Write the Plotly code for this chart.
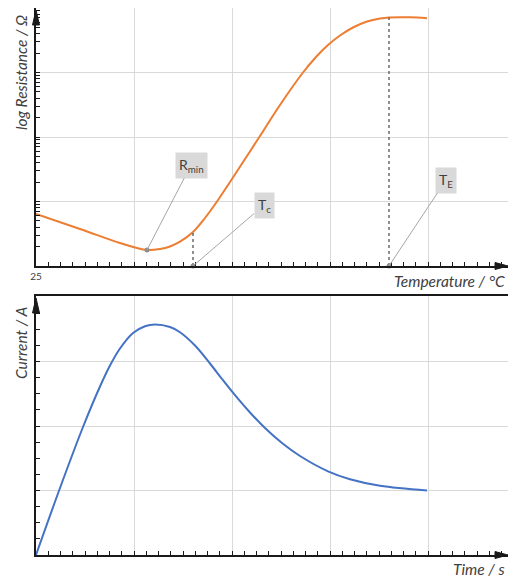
import math
import plotly.graph_objects as go

# ---- data ----
temperature = [25, 36.22, 46.43, 50.26, 53.32, 56.63, 59.18, 61.73, 65.05, 68.11, 71.17,
               74.49, 78.32, 82.14, 87.24, 93.11, 96.43, 99.49, 102.55, 105.87, 109.44,
               112.76, 115.05, 120.41, 124.74]
resistance = [6.40, 3.75, 2.27, 1.94, 1.77, 1.835, 2.006, 2.381, 3.366, 5.549, 10.0,
              20.06, 45.6, 103.6, 313.4, 1000, 1739, 2670, 3746, 4985, 6176,
              6876, 7124, 7175, 6925]

time = [0, 0.2449, 0.4796, 0.6531, 0.7551, 0.8571, 0.9898, 1.1122, 1.2143, 1.3673,
        1.4694, 1.6224, 1.7755, 1.898, 2.0306, 2.1837, 2.3367, 2.5102, 2.6939,
        2.9796, 3.2041, 3.5102, 3.9898]
current = [0, 1.0388, 1.9845, 2.6124, 2.938, 3.2016, 3.4419, 3.5473, 3.5736, 3.5349,
           3.4543, 3.2481, 2.969, 2.7287, 2.4775, 2.2093, 1.969, 1.7364, 1.5349,
           1.2977, 1.1752, 1.0744, 1.0016]

rmin_T, rmin_R = 53.32, 1.77
tc_T, tc_R = 65.05, 3.366
te_T, te_R = 115.05, 7124
r_floor = 1

temp_ticks = [25, 50, 75, 100, 125]
temp_ticktext = ["25", "", "", "", ""]
time_ticks = [0, 1, 2, 3, 4]

# ---- layout constants ----
W, H = 500, 570
OFF = 8  # page body margin
FONT = "Lato"
TXT = "#404040"
GRID = "#d9d9d9"
AX = "#1a1a1a"


def px(x):
    return (x - OFF) / W


def py(y):
    return 1 - (y - OFF) / H


fig = go.Figure()

fig.add_trace(go.Scatter(x=temperature, y=resistance, mode="lines",
                         line=dict(color="#ED7D31", width=2, shape="spline"),
                         xaxis="x", yaxis="y", showlegend=False, hoverinfo="skip"))
fig.add_trace(go.Scatter(x=[tc_T, tc_T], y=[r_floor, tc_R], mode="lines",
                         line=dict(color="#555555", width=1.3, dash="dot"),
                         xaxis="x", yaxis="y", showlegend=False, hoverinfo="skip"))
fig.add_trace(go.Scatter(x=[te_T, te_T], y=[r_floor, te_R], mode="lines",
                         line=dict(color="#555555", width=1.3, dash="dot"),
                         xaxis="x", yaxis="y", showlegend=False, hoverinfo="skip"))
fig.add_trace(go.Scatter(x=[rmin_T, tc_T, te_T], y=[rmin_R, r_floor, r_floor], mode="markers",
                         marker=dict(color="#8c8c8c", size=5), cliponaxis=False,
                         xaxis="x", yaxis="y", showlegend=False, hoverinfo="skip"))

fig.add_trace(go.Scatter(x=time, y=current, mode="lines",
                         line=dict(color="#4472C4", width=2, shape="spline"),
                         xaxis="x2", yaxis="y2", showlegend=False, hoverinfo="skip"))

log_minor = [m * 10 ** d for d in range(0, 4) for m in range(2, 10)]

common_x = dict(showline=True, linecolor=AX, linewidth=2, mirror=True,
                showgrid=True, gridcolor=GRID, gridwidth=1, zeroline=False,
                ticks="inside", ticklen=4, tickwidth=1.3, tickcolor=AX)
common_y = dict(showline=True, linecolor=AX, linewidth=2, mirror=False,
                showgrid=True, gridcolor=GRID, gridwidth=1, zeroline=False,
                ticks="inside", ticklen=4, tickwidth=1.3, tickcolor=AX,
                showticklabels=False)

fig.update_layout(
    width=W, height=H,
    margin=dict(l=0, r=0, t=0, b=0, autoexpand=False),
    paper_bgcolor="white", plot_bgcolor="white",
    font=dict(family=FONT, color=TXT),
    xaxis=dict(domain=[px(36), 1], range=[25, 25 + 472 / 98 * 25], anchor="y",
               tickmode="array", tickvals=temp_ticks, ticktext=temp_ticktext,
               tickfont=dict(size=10, color=TXT),
               minor=dict(ticks="inside", ticklen=4, tickwidth=1.3, tickcolor=AX,
                          dtick=25 / 8, tick0=25, showgrid=False),
               **common_x),
    yaxis=dict(domain=[py(266), 1], type="log", range=[0, 258 / 64.5], anchor="x",
               tickmode="array", tickvals=[1, 10, 100, 1000, 10000],
               minor=dict(ticks="inside", ticklen=4, tickwidth=1.3, tickcolor=AX,
                          tickmode="array", tickvals=log_minor, showgrid=False),
               **common_y),
    xaxis2=dict(domain=[px(36), 1], range=[0, 472 / 98], anchor="y2",
                tickmode="array", tickvals=time_ticks, showticklabels=False,
                minor=dict(ticks="inside", ticklen=4, tickwidth=1.3, tickcolor=AX,
                           dtick=0.125, tick0=0, showgrid=False),
                **common_x),
    yaxis2=dict(domain=[py(555), py(296)], range=[0, 259 / 64.5], anchor="x2",
                tickmode="array", tickvals=[0, 1, 2, 3, 4],
                minor=dict(ticks="inside", ticklen=4, tickwidth=1.3, tickcolor=AX,
                           dtick=0.25, tick0=0, showgrid=False),
                **common_y),
)


def tri(points):
    p = "M " + " L ".join(f"{px(x)},{py(y)}" for x, y in points) + " Z"
    return dict(type="path", path=p, xref="paper", yref="paper",
                fillcolor=AX, line=dict(color=AX, width=1))


fig.add_shape(tri([(36, 10), (32.5, 25), (39.5, 25)]))
fig.add_shape(tri([(36, 298), (32.5, 313), (39.5, 313)]))
fig.add_shape(tri([(508, 266), (495, 262.5), (495, 269.5)]))
fig.add_shape(tri([(508, 555), (495, 551.5), (495, 558.5)]))

title_font = dict(family=FONT, size=15.5, color=TXT)
fig.add_annotation(x=px(21), y=py(73), xref="paper", yref="paper", textangle=-90,
                   xanchor="center", yanchor="middle",
                   text="<i>log Resistance / Ω</i>", showarrow=False, font=title_font)
fig.add_annotation(x=px(21), y=py(343), xref="paper", yref="paper", textangle=-90,
                   xanchor="center", yanchor="middle",
                   text="<i>Current / A</i>", showarrow=False, font=title_font)
fig.add_annotation(x=px(507), y=py(281), xref="paper", yref="paper",
                   xanchor="right", yanchor="middle",
                   text="<i>Temperature / °C</i>", showarrow=False, font=title_font)
fig.add_annotation(x=px(507), y=py(569), xref="paper", yref="paper",
                   xanchor="right", yanchor="middle",
                   text="<i>Time / s</i>", showarrow=False, font=title_font)

callout_font = dict(family=FONT, size=14, color=TXT)
for x, y, txt, ax, ay in [
    (rmin_T, rmin_R, "R<sub>min</sub>", 44, -85),
    (tc_T, r_floor, "T<sub>c</sub>", 71, -61),
    (te_T, r_floor, "T<sub>E</sub>", 57, -86),
]:
    fig.add_annotation(x=x, y=math.log10(y), xref="x", yref="y", text=txt,
                       showarrow=True, arrowhead=0, arrowcolor="#a6a6a6", arrowwidth=1,
                       ax=ax, ay=ay, bgcolor="#d9d9d9", borderpad=3,
                       font=callout_font)

fig.write_html("out.html")
